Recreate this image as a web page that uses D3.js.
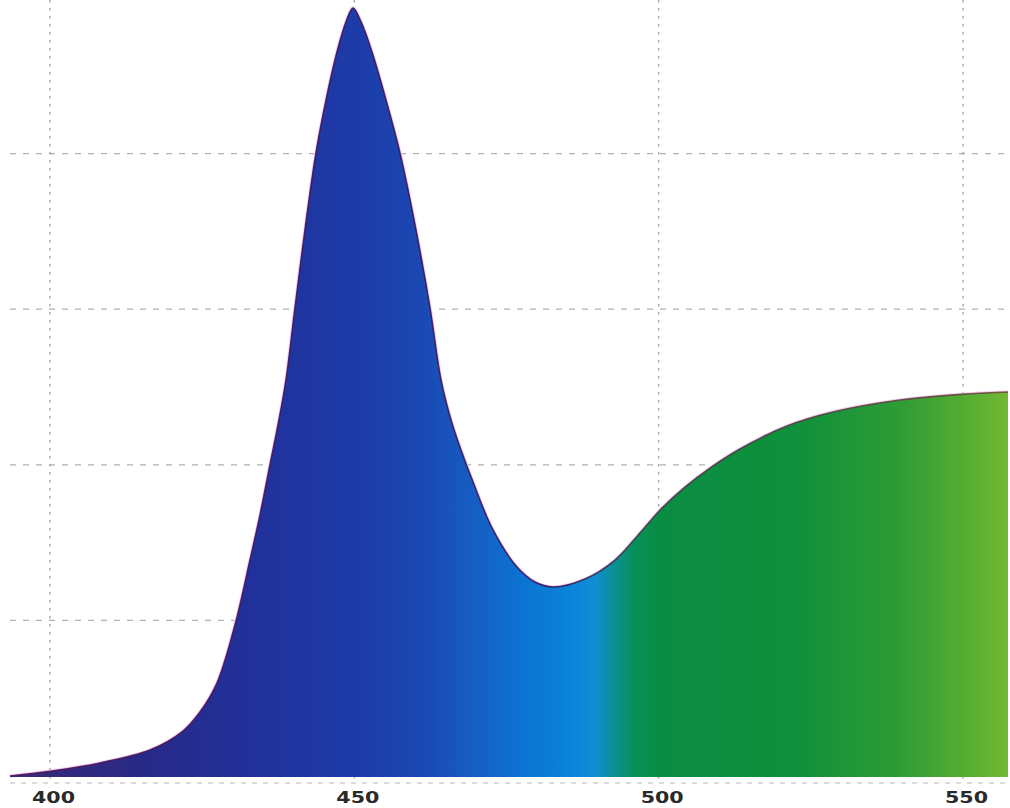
<!DOCTYPE html>
<html><head><meta charset="utf-8">
<script src="https://cdn.jsdelivr.net/npm/d3@7"></script>
<style>html,body{margin:0;padding:0;background:#fff;overflow:hidden}</style>
</head><body>
<svg id="chart" width="1010" height="808"></svg>
<script>
// Spectrum curve: wavelength (nm) and relative intensity (grid units)
const wavelengths = [393.43,400.33,408.21,416.43,421.85,424.64,427.44,430.39,432.86,434.50,436.14,437.46,438.77,440.25,441.89,443.70,445.35,447.15,448.63,449.78,451.10,452.90,455.20,457.50,460.13,462.43,464.24,465.88,467.52,469.50,472.78,476.72,479.68,482.64,487.90,492.83,496.93,500.55,504.33,508.43,513.36,521.08,528.64,539.65,550.66,557.39];
const intensity   = [0,0.032,0.084,0.167,0.289,0.411,0.598,0.970,1.388,1.677,1.999,2.256,2.545,3.008,3.509,4.004,4.344,4.653,4.846,4.936,4.846,4.653,4.344,4.004,3.509,3.008,2.545,2.288,2.095,1.889,1.581,1.343,1.247,1.215,1.266,1.388,1.562,1.722,1.857,1.979,2.102,2.249,2.339,2.416,2.455,2.468];
const xTicks = [400,450,500,550];
const yGrid = [1,2,3,4];
// Fill colours along wavelength
const colorStopsNm = [393.4,416.4,432.9,449.3,460.8,469.0,477.2,485.4,489.5,492.8,496.1,500.2,523.2,539.6,549.5,557.4];
const colorStops = ["#3a2a78","#272a88","#21309a","#1d3ba8","#1a48b2","#165cc2","#0c72d2","#0a84da","#0f8ed2","#0a9090","#08905a","#0a8c44","#10903a","#2e9c36","#52ac32","#72b832"];

const svg = d3.select("#chart");
const x = d3.scaleLinear().domain([400,550]).range([50,963]);
const y = d3.scaleLinear().domain([0,5]).range([776,-2]);
const xMin = d3.min(wavelengths), xMax = d3.max(wavelengths);

const defs = svg.append("defs");
const grad = defs.append("linearGradient").attr("id","spec")
  .attr("gradientUnits","userSpaceOnUse")
  .attr("x1",x(xMin)).attr("x2",x(xMax)).attr("y1",0).attr("y2",0);
colorStopsNm.forEach((w,i)=>{
  grad.append("stop").attr("offset",(x(w)-x(xMin))/(x(xMax)-x(xMin))).attr("stop-color",colorStops[i]);
});
const sgrad = defs.append("linearGradient").attr("id","edge")
  .attr("gradientUnits","userSpaceOnUse")
  .attr("x1",x(xMin)).attr("x2",x(xMax)).attr("y1",0).attr("y2",0);
[["0","#4a1458"],["0.55","#301860"],["0.62","#3a3a48"],["1","#6a4a3a"]].forEach(s=>
  sgrad.append("stop").attr("offset",s[0]).attr("stop-color",s[1]));

// gridlines
const g = svg.append("g");
g.selectAll("line.h").data(yGrid).enter().append("line")
  .attr("x1",x(xMin)).attr("x2",x(xMax))
  .attr("y1",d=>y(d)).attr("y2",d=>y(d))
  .attr("stroke","#b0b0b0").attr("stroke-width",1.2).attr("stroke-dasharray","6,7");
g.selectAll("line.v").data(xTicks).enter().append("line")
  .attr("x1",d=>x(d)).attr("x2",d=>x(d))
  .attr("y1",0).attr("y2",783)
  .attr("stroke","#a8a8a8").attr("stroke-width",1.5).attr("stroke-dasharray","2.5,5.5");
g.append("line").attr("x1",x(xMin)).attr("x2",x(xMax)).attr("y1",783).attr("y2",783)
  .attr("stroke","#b8b8b8").attr("stroke-width",1.2).attr("stroke-dasharray","5,6");

const data = wavelengths.map((w,i)=>[w,intensity[i]]);
const curve = d3.curveCatmullRom.alpha(0.5);
const area = d3.area().x(d=>x(d[0])).y0(y(0)+1).y1(d=>y(d[1])).curve(curve);
const line = d3.line().x(d=>x(d[0])).y(d=>y(d[1])).curve(curve);

svg.append("path").attr("d",line(data)).attr("fill","none")
  .attr("stroke","#f6d2f2").attr("stroke-width",3.5);
svg.append("path").attr("d",area(data)).attr("fill","url(#spec)");
svg.append("path").attr("d",line(data)).attr("fill","none")
  .attr("stroke","url(#edge)").attr("stroke-width",1.6).attr("stroke-opacity",0.9);

// axis labels
const ax = d3.axisBottom(x).tickValues(xTicks).tickSize(0).tickPadding(0);
const axg = svg.append("g").attr("transform","translate(3,803)").call(ax);
axg.select(".domain").remove();
axg.selectAll("text")
  .attr("dy",0).attr("y",0)
  .attr("font-family","DejaVu Sans").attr("font-weight","bold")
  .attr("font-size",15).attr("fill","#2a2a2a")
  .attr("textLength",43).attr("lengthAdjust","spacingAndGlyphs");
</script>
</body></html>
